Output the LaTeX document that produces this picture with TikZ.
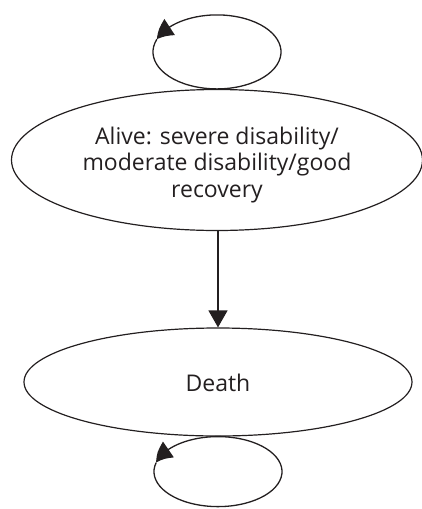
\documentclass[tikz,border=0pt]{standalone}
\usepackage{fontspec}
\setmainfont{Open Sans}
\usetikzlibrary{shapes.geometric,arrows.meta,bending}
\definecolor{ink}{HTML}{231F20}
\begin{document}
\begin{tikzpicture}[x=1pt,y=-1pt,
  state/.style={draw=ink,ellipse,line width=1.2pt,inner sep=0pt},
  caption/.style={text=ink,align=center,inner sep=0pt,
    font=\fontsize{23}{26.5}\selectfont},
  flow/.style={draw=ink,line width=1.3pt,-{Triangle[length=17pt,width=19pt]}},
  selfloop/.style={draw=ink,line width=1.3pt,-{Triangle[length=17pt,width=19pt,bend]}}]
\useasboundingbox (0,0) rectangle (422,509);

% the two states
\node[state,minimum width=411pt,minimum height=141pt] (alive) at (217,160) {};
\node[caption] (aliveText) at ([yshift=-5pt]alive.center)
  {Alive: severe disability/\\moderate disability/good\\recovery};
\node[state,minimum width=388pt,minimum height=108pt] (death) at (218,382) {};
\node[caption] (deathText) at ([yshift=-1pt]death.center) {Death};

% transition between the states
\draw[flow] (alive.south -| death.north) -- (death.north);

% self-transitions, each loop resting on its state
\coordinate (loopA) at ([yshift=37pt]alive.north);
\coordinate (loopD) at ([yshift=-35pt]death.south);
\draw[selfloop] ([shift={(160:64pt and 37pt)}]loopA)
  arc[start angle=160,end angle=520,x radius=64pt,y radius=37pt];
\draw[selfloop] ([shift={(165:64pt and 35pt)}]loopD)
  arc[start angle=165,end angle=525,x radius=64pt,y radius=35pt];
\end{tikzpicture}
\end{document}
